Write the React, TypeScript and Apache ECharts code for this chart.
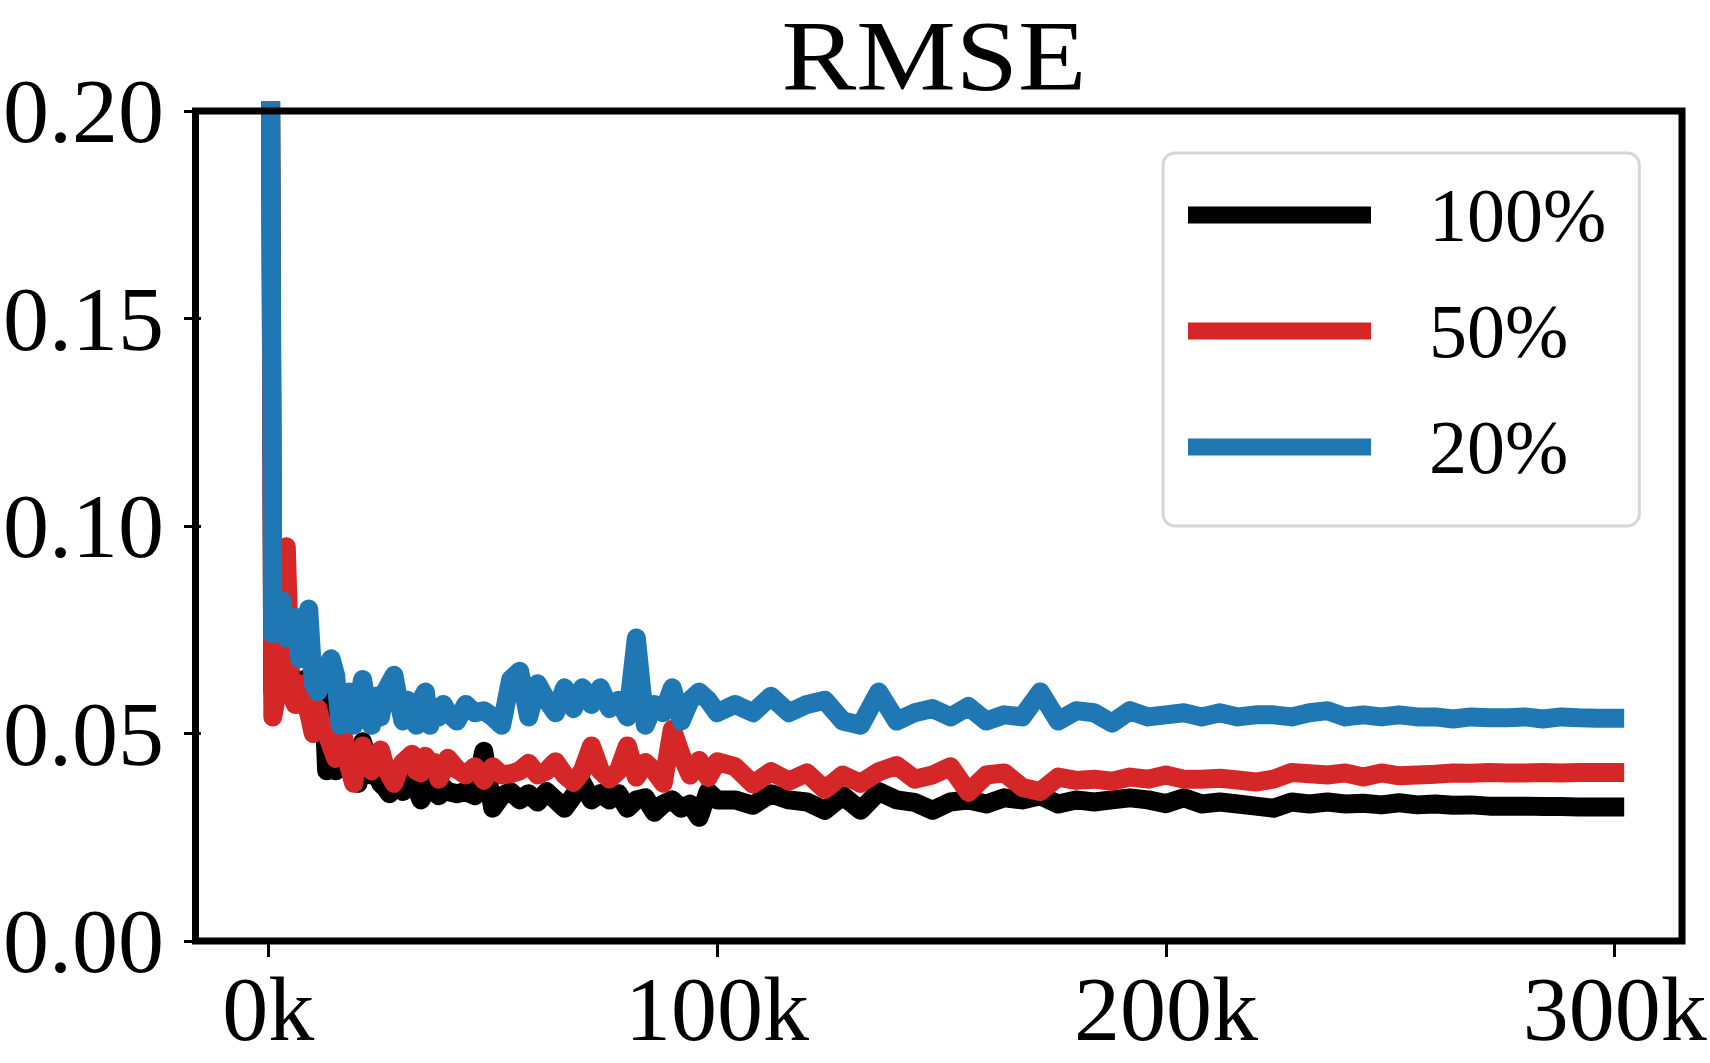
import React, { useEffect, useRef } from "react";
import * as echarts from "echarts";

// training steps (thousands)
const steps: number[] = [
  0, 1, 2, 3, 4, 5, 6, 7, 8, 9, 10, 11, 12, 13, 14, 15, 16, 17, 18, 19, 20,
  21, 22, 23, 24, 25, 26, 27, 28, 29, 30, 31, 32, 33, 34, 35, 36, 37, 38, 39, 40,
  42, 44, 46, 48, 50, 52, 54, 56, 58, 60, 62, 64, 66, 68, 70, 72, 74, 76, 78, 80,
  82, 84, 86, 88, 90, 92, 94, 96, 98, 100,
  104, 108, 112, 116, 120, 124, 128, 132, 136, 140, 144, 148, 152, 156, 160,
  164, 168, 172, 176, 180, 184, 188, 192, 196, 200, 204, 208, 212, 216, 220,
  224, 228, 232, 236, 240, 244, 248, 252, 256, 260, 264, 268, 272, 276, 280,
  284, 288, 292, 296, 300,
];

const rmse100: number[] = [
  0.35, 0.06, 0.068, 0.065, 0.07, 0.064, 0.062, 0.06, 0.063, 0.058, 0.06,
  0.062, 0.066, 0.041, 0.058, 0.041, 0.045, 0.043, 0.044, 0.041, 0.038,
  0.048, 0.044, 0.04, 0.042, 0.038, 0.037, 0.0355, 0.039, 0.037, 0.036,
  0.038, 0.04, 0.037, 0.034, 0.036, 0.038, 0.036, 0.035, 0.037, 0.036,
  0.0355, 0.036, 0.035, 0.0457, 0.032, 0.035, 0.036, 0.034, 0.0355, 0.0335,
  0.036, 0.034, 0.032, 0.035, 0.038, 0.034, 0.0355, 0.034, 0.0355, 0.032,
  0.034, 0.0345, 0.031, 0.033, 0.034, 0.032, 0.033, 0.0298, 0.036, 0.034,
  0.034, 0.0327, 0.0355, 0.034, 0.0335, 0.0315, 0.035, 0.0315, 0.036, 0.034,
  0.0334, 0.0315, 0.0335, 0.034, 0.033, 0.0345, 0.034, 0.035, 0.033, 0.034,
  0.0335, 0.034, 0.0345, 0.034, 0.0331, 0.0345, 0.033, 0.0335, 0.033, 0.0325,
  0.032, 0.0335, 0.033, 0.0335, 0.033, 0.0332, 0.0328, 0.0333, 0.0328, 0.033,
  0.0327, 0.0328, 0.0325, 0.0325, 0.0325, 0.0324, 0.0324, 0.0323, 0.0323, 0.0323,
];

const rmse50: number[] = [
  0.35, 0.054, 0.06, 0.07, 0.095, 0.06, 0.057, 0.062, 0.058, 0.055, 0.05,
  0.056, 0.052, 0.05, 0.047, 0.044, 0.052, 0.048, 0.042, 0.038, 0.045,
  0.047, 0.043, 0.041, 0.043, 0.046, 0.042, 0.04, 0.038, 0.041, 0.043,
  0.044, 0.045, 0.041, 0.0405, 0.0445, 0.042, 0.043, 0.039, 0.041, 0.044,
  0.0414, 0.04, 0.042, 0.0387, 0.042, 0.04, 0.0403, 0.041, 0.0428, 0.04,
  0.041, 0.0432, 0.04, 0.0382, 0.041, 0.047, 0.041, 0.039, 0.041, 0.047,
  0.0395, 0.043, 0.041, 0.038, 0.051, 0.0448, 0.04, 0.0435, 0.0394, 0.0432,
  0.042, 0.0378, 0.0408, 0.0385, 0.0405, 0.0365, 0.04, 0.038, 0.0408, 0.0423,
  0.039, 0.04, 0.042, 0.0358, 0.04, 0.0405, 0.037, 0.036, 0.0395, 0.0387,
  0.039, 0.0385, 0.0395, 0.039, 0.04, 0.039, 0.039, 0.0392, 0.0388, 0.0383,
  0.039, 0.0406, 0.0403, 0.04, 0.0405, 0.0395, 0.0405, 0.0398, 0.04, 0.0402,
  0.0405, 0.0404, 0.0406, 0.0405, 0.0405, 0.0406, 0.0405, 0.0406, 0.0406, 0.0406,
];

const rmse20: number[] = [
  0.35, 0.074, 0.079, 0.082, 0.073, 0.076, 0.078, 0.068, 0.074, 0.08, 0.062,
  0.06, 0.063, 0.066, 0.068, 0.064, 0.052, 0.057, 0.06, 0.052, 0.057,
  0.063, 0.057, 0.052, 0.059, 0.054, 0.06, 0.062, 0.064, 0.058, 0.053,
  0.058, 0.056, 0.052, 0.058, 0.06, 0.052, 0.056, 0.054, 0.057, 0.055,
  0.053, 0.057, 0.055, 0.0555, 0.054, 0.052, 0.063, 0.065, 0.054, 0.062,
  0.058, 0.055, 0.061, 0.056, 0.061, 0.057, 0.061, 0.056, 0.058, 0.054,
  0.073, 0.052, 0.057, 0.055, 0.061, 0.053, 0.058, 0.06, 0.058, 0.055,
  0.057, 0.055, 0.059, 0.055, 0.057, 0.058, 0.053, 0.052, 0.06, 0.053,
  0.055, 0.056, 0.054, 0.0565, 0.053, 0.0545, 0.054, 0.06, 0.053, 0.0555,
  0.055, 0.0525, 0.0555, 0.054, 0.0545, 0.055, 0.054, 0.055, 0.054, 0.0545,
  0.0545, 0.054, 0.055, 0.0555, 0.054, 0.0545, 0.054, 0.0545, 0.054, 0.054,
  0.0535, 0.054, 0.0538, 0.0538, 0.054, 0.0535, 0.054, 0.0538, 0.0537, 0.0537,
];

const seriesNames = ["100%", "50%", "20%"];
const seriesColors = ["#000000", "#d62728", "#1f77b4"];
const seriesValues = [rmse100, rmse50, rmse20];

const xTickValues = [0, 100, 200, 300];
const yTickLabels = ["0.00", "0.05", "0.10", "0.15", "0.20"];

const FONT = "'Liberation Serif', 'DejaVu Serif', serif";

export default function App() {
  const ref = useRef<HTMLDivElement>(null);

  useEffect(() => {
    if (!ref.current) return;
    const chart = echarts.init(ref.current, null, { renderer: "svg" });

    const gl = 195.5, gt = 111, gr = 1682, gb = 941;

    chart.setOption({
      animation: false,
      backgroundColor: "#ffffff",
      grid: {
        left: gl,
        top: gt,
        right: 1710 - gr,
        bottom: 1063 - gb,
        containLabel: false,
      },
      graphic: [
        {
          type: "text",
          x: 934,
          y: 55,
          scaleX: 1.12,
          scaleY: 1.0,
          z: 100,
          style: {
            text: "RMSE",
            font: `100px ${FONT}`,
            fill: "#000",
            textAlign: "center",
            textVerticalAlign: "middle",
          },
        },
        {
          type: "rect",
          z: 100,
          shape: { x: gl, y: gt, width: gr - gl, height: gb - gt },
          style: { fill: "none", stroke: "#000", lineWidth: 7 },
        },
      ],
      legend: {
        orient: "vertical",
        left: 1163,
        top: 153,
        icon: "rect",
        itemWidth: 183,
        itemHeight: 17,
        itemGap: 40,
        padding: [24, 33, 41, 25],
        backgroundColor: "#ffffff",
        borderColor: "#d6d6d6",
        borderWidth: 3,
        borderRadius: 12,
        data: seriesNames,
        textStyle: {
          fontSize: 76,
          fontFamily: FONT,
          color: "#000",
          padding: [0, 0, 0, 53],
        },
        z: 50,
      },
      xAxis: {
        type: "value",
        min: -15,
        max: 315,
        axisLine: { show: false, onZero: false },
        splitLine: { show: false },
        axisTick: {
          show: true,
          length: 16,
          lineStyle: { color: "#000", width: 3 },
          customValues: xTickValues,
        },
        axisLabel: {
          show: true,
          margin: 22,
          fontSize: 92,
          fontFamily: FONT,
          color: "#000",
          customValues: xTickValues,
          formatter: (v: number) => `${v}k`,
        },
      },
      yAxis: {
        type: "value",
        min: 0,
        max: 0.2,
        interval: 0.05,
        axisLine: { show: false, onZero: false },
        splitLine: { show: false },
        axisTick: {
          show: true,
          length: 17,
          lineStyle: { color: "#000", width: 3 },
        },
        axisLabel: {
          show: true,
          margin: 37,
          fontSize: 92,
          fontFamily: FONT,
          color: "#000",
          formatter: (v: number) => {
            const i = Math.round(v / 0.05);
            return yTickLabels[i] ?? v.toFixed(2);
          },
        },
      },
      series: seriesNames.map((name, i) => ({
        name,
        type: "line",
        showSymbol: false,
        symbol: "none",
        clip: true,
        data: steps.map((s, j) => [s, seriesValues[i][j]]),
        itemStyle: { color: seriesColors[i] },
        lineStyle: {
          color: seriesColors[i],
          width: 19,
          join: "round",
          cap: "square",
        },
        z: 2 + i,
      })),
    });

    return () => chart.dispose();
  }, []);

  return (
    <div
      ref={ref}
      style={{ position: "absolute", left: 0, top: 0, width: 1710, height: 1063 }}
    />
  );
}
